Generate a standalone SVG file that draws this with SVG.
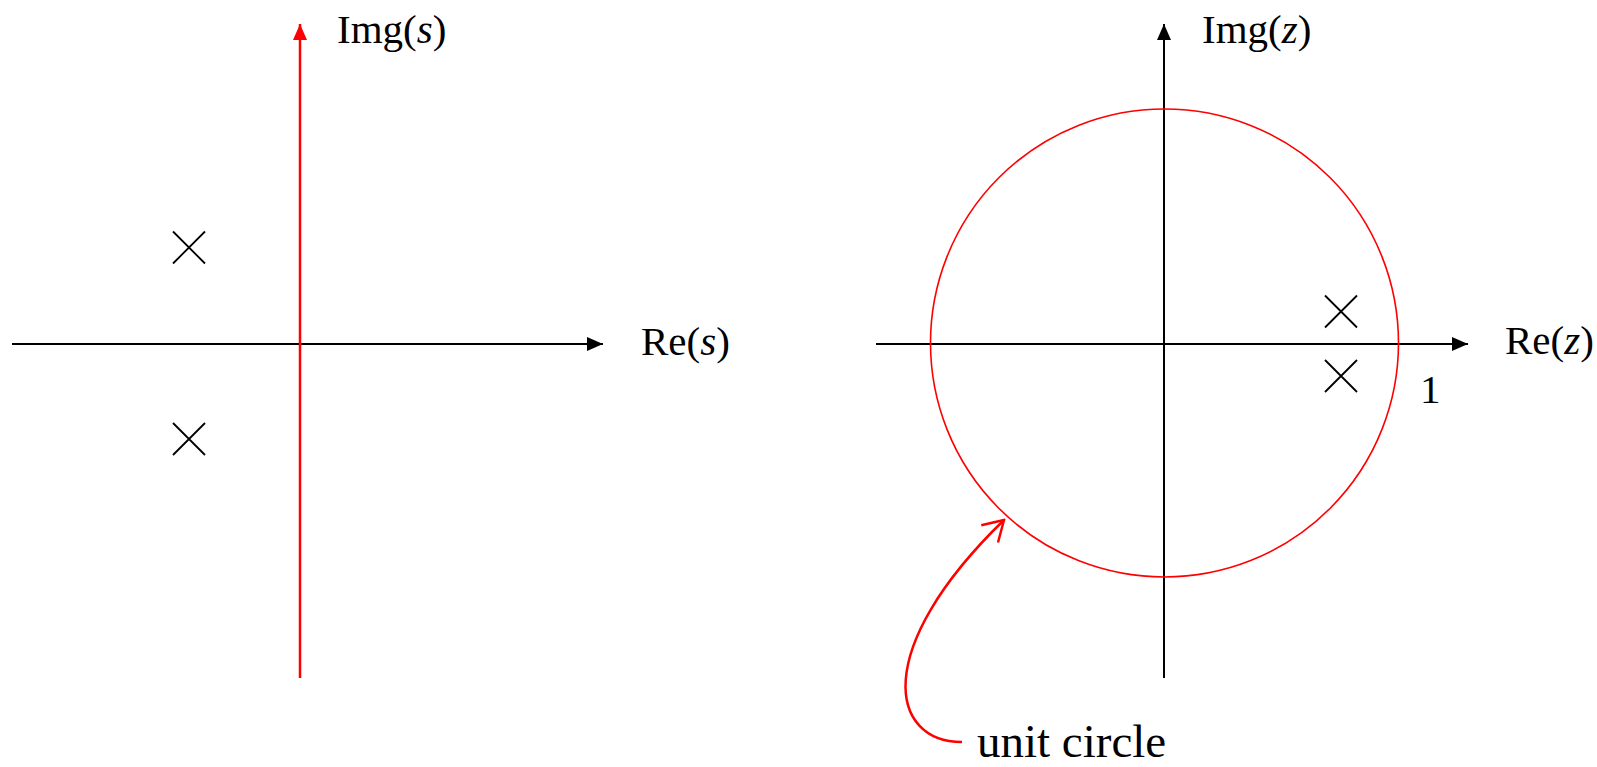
<svg xmlns="http://www.w3.org/2000/svg" width="1597" height="767" viewBox="0 0 1597 767">
<defs>
<marker id="ab" viewBox="0 0 16 14" refX="16" refY="7" markerWidth="16" markerHeight="14" markerUnits="userSpaceOnUse" orient="auto"><path d="M0,0 L16,7 L0,14 Z" fill="#000"/></marker>
<marker id="ar" viewBox="0 0 16 14" refX="16" refY="7" markerWidth="16" markerHeight="14" markerUnits="userSpaceOnUse" orient="auto"><path d="M0,0 L16,7 L0,14 Z" fill="#f00"/></marker>
<marker id="av" viewBox="0 0 24 30" refX="22" refY="15" markerWidth="24" markerHeight="30" markerUnits="userSpaceOnUse" orient="auto"><path d="M2,3 L22,15 L2,27" fill="none" stroke="#f00" stroke-width="2.5"/></marker>
</defs>
<style>
.ax{stroke:#000;stroke-width:2;fill:none}
.x{stroke:#000;stroke-width:1.8;fill:none}
text{font-family:"Liberation Serif","Times New Roman",serif;font-size:41px;fill:#000}
</style>
<rect width="1597" height="767" fill="#fff"/>
<g id="connectors">
<line class="ax" x1="12" y1="344" x2="603" y2="344" marker-end="url(#ab)"/>
<line x1="300" y1="678" x2="300" y2="24" stroke="#f00" stroke-width="2.5" marker-end="url(#ar)"/>
<line class="ax" x1="876" y1="344" x2="1468" y2="344" marker-end="url(#ab)"/>
<line class="ax" x1="1164" y1="678" x2="1164" y2="24" marker-end="url(#ab)"/>
<path d="M962,742 C890,742 870,650 1004,520" fill="none" stroke="#f00" stroke-width="2.5" marker-end="url(#av)"/>
</g>
<g id="unit-circle"><circle cx="1164.5" cy="343" r="234" fill="none" stroke="#f00" stroke-width="1.6"/></g>
<g id="pole-s1"><path class="x" d="M173,231.5 L205,263.5 M205,231.5 L173,263.5"/></g>
<g id="pole-s2"><path class="x" d="M173,423 L205,455 M205,423 L173,455"/></g>
<g id="pole-z1"><path class="x" d="M1325,295.5 L1357,327.5 M1357,295.5 L1325,327.5"/></g>
<g id="pole-z2"><path class="x" d="M1325,360 L1357,392 M1357,360 L1325,392"/></g>
<g id="labels">
<text x="337" y="43">Img(<tspan font-style="italic">s</tspan>)</text>
<text x="641" y="355">Re(<tspan font-style="italic">s</tspan>)</text>
<text x="1202" y="43">Img(<tspan font-style="italic">z</tspan>)</text>
<text x="1505" y="354">Re(<tspan font-style="italic">z</tspan>)</text>
<text x="1420" y="403">1</text>
<text x="977" y="757" style="font-size:47px">unit circle</text>
</g>
</svg>
